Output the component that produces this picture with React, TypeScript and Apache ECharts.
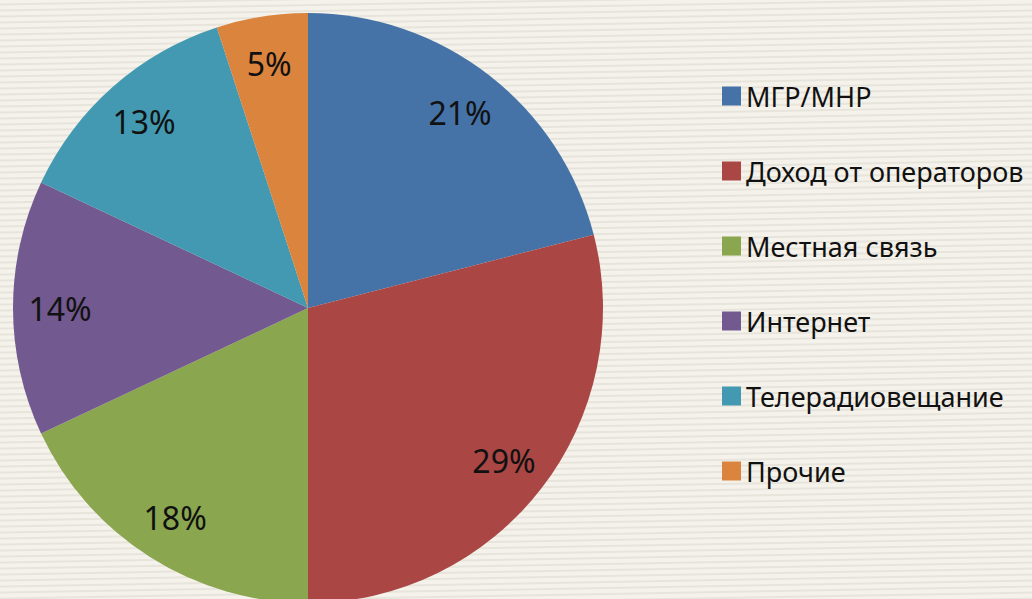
import React, { useEffect, useRef } from "react";
import * as echarts from "echarts";

const categories = ["МГР/МНР", "Доход от операторов", "Местная связь", "Интернет", "Телерадиовещание", "Прочие"];
const values = [21, 29, 18, 14, 13, 5];
const colors = ["#4573A8", "#AA4644", "#8AA64F", "#72598F", "#4299B1", "#DB843D"];

export default function App() {
  const ref = useRef<HTMLDivElement>(null);
  useEffect(() => {
    if (!ref.current) return;
    const chart = echarts.init(ref.current, null, { renderer: "svg" });
    const data = categories.map((name, i) => ({ name, value: values[i] }));
    chart.setOption({
      animation: false,
      color: colors,
      legend: {
        orient: "vertical",
        left: 717,
        top: 77,
        itemWidth: 19,
        itemHeight: 19,
        itemGap: 47,
        icon: "rect",
        data: categories,
        textStyle: { fontFamily: "Noto Sans", fontSize: 27, color: "#111", padding: [0, 0, 0, 0], lineHeight: 28 },
      },
      series: [
        {
          type: "pie",
          center: [308, 308],
          radius: 295,
          startAngle: 90,
          clockwise: true,
          data,
          label: { show: false },
          labelLine: { show: false },
          itemStyle: { borderWidth: 0 },
          emphasis: { disabled: true },
        },
        {
          type: "pie",
          center: [308, 308],
          radius: 490,
          startAngle: 90,
          clockwise: true,
          data,
          silent: true,
          itemStyle: { color: "rgba(0,0,0,0)", borderWidth: 0 },
          label: {
            show: true,
            position: "inside",
            formatter: (p: any) => `${p.value}%`,
            fontFamily: "Noto Sans",
            fontSize: 32,
            color: "#111",
          },
          labelLine: { show: false },
          emphasis: { disabled: true },
        },
      ],
    });
    return () => chart.dispose();
  }, []);
  return (
    <div
      style={{
        position: "fixed",
        left: 0,
        top: 0,
        width: 1032,
        height: 599,
        background:
          "repeating-linear-gradient(179deg, #F4F2EB 0px, #F4F2EB 3px, #E7E4DB 4px, #E7E4DB 5px, #F4F2EB 6px)",
      }}
    >
      <div ref={ref} style={{ width: 1032, height: 599 }} />
    </div>
  );
}
